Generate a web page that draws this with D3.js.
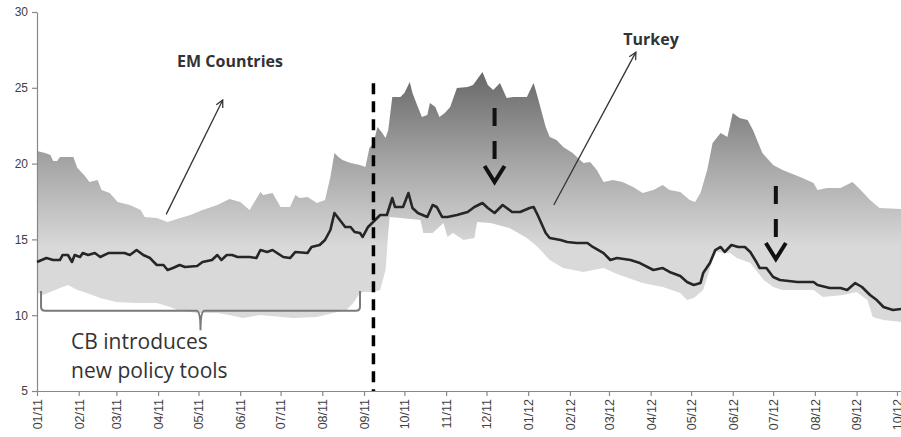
<!DOCTYPE html>
<html>
<head>
<meta charset="utf-8">
<script src="https://cdn.jsdelivr.net/npm/d3@7"></script>
<style>
  body { margin: 0; background: #fff; }
  svg { display: block; font-family: "Open Sans", "Noto Sans", sans-serif; }
</style>
</head>
<body>
<script>
// EM countries range (max / min) and Turkey
const emMax = [
  ['2011-01-01', 20.83], ['2011-01-07', 20.70], ['2011-01-11', 20.57], ['2011-01-13', 20.17],
  ['2011-01-16', 20.17], ['2011-01-18', 20.44], ['2011-01-28', 20.44], ['2011-01-31', 19.71],
  ['2011-02-05', 19.25], ['2011-02-09', 18.79], ['2011-02-15', 18.92], ['2011-02-18', 18.26],
  ['2011-02-24', 18.06], ['2011-03-02', 17.47], ['2011-03-11', 17.27], ['2011-03-19', 16.94],
  ['2011-03-22', 16.48], ['2011-03-31', 16.41], ['2011-04-08', 16.15], ['2011-04-15', 16.35],
  ['2011-04-25', 16.61], ['2011-05-04', 16.94], ['2011-05-15', 17.27], ['2011-05-24', 17.66],
  ['2011-06-01', 17.47], ['2011-06-08', 16.94], ['2011-06-16', 18.13], ['2011-06-18', 17.93],
  ['2011-06-25', 18.06], ['2011-07-01', 17.14], ['2011-07-08', 17.14], ['2011-07-12', 17.93],
  ['2011-07-15', 17.73], ['2011-07-21', 17.80], ['2011-07-28', 17.40], ['2011-08-03', 17.60],
  ['2011-08-07', 19.12], ['2011-08-10', 20.70], ['2011-08-13', 20.44], ['2011-08-16', 20.24],
  ['2011-08-22', 20.04], ['2011-08-29', 19.91], ['2011-09-02', 19.78], ['2011-09-05', 21.03],
  ['2011-09-08', 21.36], ['2011-09-11', 22.41], ['2011-09-14', 22.08], ['2011-09-17', 21.69],
  ['2011-09-19', 22.22], ['2011-09-22', 24.39], ['2011-09-28', 24.39], ['2011-10-01', 24.66],
  ['2011-10-05', 25.38], ['2011-10-07', 24.66], ['2011-10-11', 23.73], ['2011-10-14', 23.07],
  ['2011-10-18', 23.21], ['2011-10-20', 24.00], ['2011-10-24', 23.73], ['2011-10-27', 23.07],
  ['2011-10-31', 23.34], ['2011-11-04', 23.73], ['2011-11-09', 24.99], ['2011-11-17', 25.05],
  ['2011-11-21', 25.18], ['2011-11-28', 26.04], ['2011-12-02', 25.18], ['2011-12-06', 24.85],
  ['2011-12-11', 25.32], ['2011-12-16', 24.33], ['2011-12-21', 24.39], ['2011-12-31', 24.39],
  ['2012-01-05', 25.32], ['2012-01-08', 24.39], ['2012-01-14', 22.41], ['2012-01-17', 21.75],
  ['2012-01-22', 21.56], ['2012-01-27', 21.10], ['2012-02-03', 20.70], ['2012-02-11', 20.04],
  ['2012-02-16', 20.11], ['2012-02-21', 19.58], ['2012-02-26', 18.79], ['2012-03-04', 18.92],
  ['2012-03-11', 18.79], ['2012-03-19', 18.46], ['2012-03-26', 18.06], ['2012-04-03', 18.26],
  ['2012-04-10', 18.59], ['2012-04-15', 18.26], ['2012-04-23', 18.13], ['2012-04-30', 17.60],
  ['2012-05-04', 17.47], ['2012-05-08', 18.06], ['2012-05-13', 19.58], ['2012-05-17', 21.36],
  ['2012-05-23', 22.02], ['2012-05-28', 21.75], ['2012-06-01', 23.34], ['2012-06-06', 23.01],
  ['2012-06-12', 22.88], ['2012-06-16', 22.22], ['2012-06-23', 20.70], ['2012-07-01', 19.91],
  ['2012-07-08', 19.58], ['2012-07-21', 19.12], ['2012-07-31', 18.72], ['2012-08-03', 18.26],
  ['2012-08-10', 18.39], ['2012-08-20', 18.39], ['2012-08-29', 18.79], ['2012-09-04', 18.26],
  ['2012-09-11', 17.60], ['2012-09-18', 17.07], ['2012-10-04', 17.00]
]

const emMin = [
  ['2011-01-01', 11.53], ['2011-01-05', 11.33], ['2011-01-11', 11.53], ['2011-01-18', 11.79],
  ['2011-01-24', 11.99], ['2011-01-31', 11.66], ['2011-02-07', 11.46], ['2011-02-17', 11.13],
  ['2011-03-01', 10.87], ['2011-03-16', 10.80], ['2011-03-31', 10.80], ['2011-04-10', 10.54],
  ['2011-04-15', 10.34], ['2011-04-30', 10.15], ['2011-05-15', 10.15], ['2011-05-24', 10.01],
  ['2011-06-03', 9.82], ['2011-06-16', 10.01], ['2011-07-10', 9.82], ['2011-07-28', 9.88],
  ['2011-08-09', 10.15], ['2011-08-19', 10.34], ['2011-08-24', 10.80], ['2011-08-28', 11.33],
  ['2011-08-31', 11.53], ['2011-09-08', 11.53], ['2011-09-13', 11.66], ['2011-09-17', 12.98],
  ['2011-09-19', 15.42], ['2011-09-20', 16.48], ['2011-09-28', 16.41], ['2011-10-13', 16.28],
  ['2011-10-15', 15.42], ['2011-10-22', 15.42], ['2011-10-30', 16.08], ['2011-11-02', 15.16],
  ['2011-11-06', 15.42], ['2011-11-14', 14.96], ['2011-11-22', 15.09], ['2011-11-24', 16.15],
  ['2011-12-04', 16.08], ['2011-12-18', 15.75], ['2011-12-31', 15.09], ['2012-01-08', 14.50],
  ['2012-01-17', 13.64], ['2012-01-27', 13.11], ['2012-02-11', 12.85], ['2012-02-26', 13.11],
  ['2012-03-07', 12.72], ['2012-03-26', 12.12], ['2012-04-10', 11.86], ['2012-04-23', 11.46],
  ['2012-04-28', 11.00], ['2012-05-03', 11.13], ['2012-05-10', 11.66], ['2012-05-17', 13.64],
  ['2012-05-20', 14.17], ['2012-05-30', 14.10], ['2012-06-04', 13.77], ['2012-06-14', 13.44],
  ['2012-06-24', 12.32], ['2012-07-01', 11.86], ['2012-07-08', 11.66], ['2012-07-31', 11.66],
  ['2012-08-07', 11.20], ['2012-08-22', 11.33], ['2012-09-01', 11.53], ['2012-09-09', 11.00],
  ['2012-09-13', 9.88], ['2012-09-21', 9.68], ['2012-10-04', 9.55]
]

const turkey = [
  ['2011-01-01', 13.51], ['2011-01-08', 13.77], ['2011-01-13', 13.64], ['2011-01-18', 13.64],
  ['2011-01-20', 13.97], ['2011-01-24', 13.97], ['2011-01-27', 13.51], ['2011-01-29', 13.97],
  ['2011-02-02', 13.84], ['2011-02-04', 14.10], ['2011-02-08', 13.97], ['2011-02-13', 14.10],
  ['2011-02-17', 13.84], ['2011-02-23', 14.10], ['2011-03-01', 14.10], ['2011-03-07', 14.10],
  ['2011-03-11', 13.97], ['2011-03-16', 14.30], ['2011-03-21', 13.97], ['2011-03-26', 13.77],
  ['2011-03-31', 13.31], ['2011-04-05', 13.31], ['2011-04-08', 12.98], ['2011-04-12', 13.11],
  ['2011-04-17', 13.31], ['2011-04-21', 13.18], ['2011-04-30', 13.25], ['2011-05-04', 13.51],
  ['2011-05-11', 13.64], ['2011-05-15', 13.97], ['2011-05-18', 13.64], ['2011-05-22', 13.97],
  ['2011-05-26', 13.97], ['2011-05-30', 13.84], ['2011-06-08', 13.84], ['2011-06-13', 13.77],
  ['2011-06-16', 14.30], ['2011-06-21', 14.17], ['2011-06-25', 14.30], ['2011-07-03', 13.84],
  ['2011-07-08', 13.77], ['2011-07-12', 14.17], ['2011-07-21', 14.10], ['2011-07-24', 14.50],
  ['2011-07-30', 14.63], ['2011-08-03', 14.96], ['2011-08-07', 15.62], ['2011-08-10', 16.74],
  ['2011-08-14', 16.28], ['2011-08-18', 15.82], ['2011-08-22', 15.82], ['2011-08-25', 15.49],
  ['2011-08-29', 15.42], ['2011-08-31', 15.16], ['2011-09-04', 15.82], ['2011-09-07', 16.08],
  ['2011-09-13', 16.61], ['2011-09-18', 16.61], ['2011-09-22', 17.73], ['2011-09-24', 17.14],
  ['2011-09-30', 17.14], ['2011-10-04', 18.06], ['2011-10-07', 17.07], ['2011-10-11', 16.74],
  ['2011-10-18', 16.48], ['2011-10-22', 17.27], ['2011-10-25', 17.14], ['2011-10-29', 16.48],
  ['2011-11-02', 16.48], ['2011-11-09', 16.61], ['2011-11-17', 16.81], ['2011-11-22', 17.14],
  ['2011-11-28', 17.40], ['2011-12-02', 17.07], ['2011-12-07', 16.74], ['2011-12-13', 17.27],
  ['2011-12-20', 16.81], ['2011-12-26', 16.81], ['2012-01-02', 17.07], ['2012-01-05', 17.14],
  ['2012-01-08', 16.61], ['2012-01-14', 15.42], ['2012-01-17', 15.09], ['2012-01-25', 14.96],
  ['2012-01-30', 14.83], ['2012-02-06', 14.76], ['2012-02-14', 14.76], ['2012-02-18', 14.50],
  ['2012-02-26', 14.10], ['2012-03-02', 13.64], ['2012-03-07', 13.77], ['2012-03-17', 13.64],
  ['2012-03-24', 13.44], ['2012-04-03', 12.98], ['2012-04-10', 13.11], ['2012-04-15', 12.85],
  ['2012-04-23', 12.58], ['2012-04-28', 12.19], ['2012-05-03', 11.99], ['2012-05-08', 12.12],
  ['2012-05-10', 12.78], ['2012-05-15', 13.44], ['2012-05-19', 14.30], ['2012-05-23', 14.50],
  ['2012-05-26', 14.17], ['2012-05-31', 14.63], ['2012-06-05', 14.50], ['2012-06-10', 14.50],
  ['2012-06-14', 14.17], ['2012-06-19', 13.44], ['2012-06-21', 13.11], ['2012-06-26', 13.11],
  ['2012-07-01', 12.52], ['2012-07-06', 12.32], ['2012-07-19', 12.19], ['2012-07-31', 12.19],
  ['2012-08-03', 11.99], ['2012-08-12', 11.79], ['2012-08-20', 11.79], ['2012-08-25', 11.66],
  ['2012-08-31', 12.12], ['2012-09-05', 11.86], ['2012-09-11', 11.33], ['2012-09-16', 11.00],
  ['2012-09-21', 10.54], ['2012-09-28', 10.34], ['2012-10-04', 10.41]
]

const yTicks = [5, 10, 15, 20, 25, 30]
const dateRange = ['2011-01-01', '2012-10-04']

// annotation points: [date, top value, tip value]
const policyDate = '2011-09-08'
const cutArrows = [['2011-12-07', 23.67, 18.72], ['2012-07-03', 18.52, 13.64]]
const braceRange = ['2011-01-04', '2011-08-29']

// measurements
let m = { width: 901, height: 437, left: 37, right: 901, top: 12, bottom: 391 }

let parse = d3.timeParse('%Y-%m-%d')

let svg = d3.select('body')
  .append('svg')
  .attr('width', m.width)
  .attr('height', m.height)

let x = d3.scaleTime()
  .domain(dateRange.map(parse))
  .range([m.left, m.right])

let y = d3.scaleLinear()
  .domain([5, 30])
  .range([m.bottom, m.top])

// band gradient, darker at the top
let defs = svg.append('defs')
let grad = defs.append('linearGradient')
  .attr('id', 'band')
  .attr('gradientUnits', 'userSpaceOnUse')
  .attr('x1', 0).attr('x2', 0)
  .attr('y1', y(26)).attr('y2', y(14.5))
grad.append('stop').attr('offset', 0).attr('stop-color', '#686868')
grad.append('stop').attr('offset', 0.55).attr('stop-color', '#a9a9a9')
grad.append('stop').attr('offset', 1).attr('stop-color', '#d9d9d9')

defs.append('marker')
  .attr('id', 'head')
  .attr('viewBox', '0 0 10 10')
  .attr('refX', 9).attr('refY', 5)
  .attr('markerWidth', 9).attr('markerHeight', 9)
  .attr('markerUnits', 'userSpaceOnUse')
  .attr('orient', 'auto')
  .append('path')
  .attr('d', 'M1,1 L9,5 L1,9')
  .attr('fill', 'none')
  .attr('stroke', '#333')
  .attr('stroke-width', 1.4)

// EM band: upper edge forward, lower edge back
let pts = emMax.map(function(d) { return [x(parse(d[0])), y(d[1])] })
  .concat(emMin.slice().reverse().map(function(d) { return [x(parse(d[0])), y(d[1])] }))

svg.append('path')
  .attr('d', d3.line()(pts) + 'Z')
  .attr('fill', 'url(#band)')

// axes
let xAxis = d3.axisBottom(x)
  .ticks(d3.timeMonth.every(1))
  .tickFormat(d3.timeFormat('%m/%y'))
  .tickSize(5)
  .tickSizeOuter(0)

let gx = svg.append('g')
  .attr('transform', 'translate(0,' + m.bottom + ')')
  .call(xAxis)
gx.select('.domain').attr('stroke', '#888').attr('stroke-width', 1.2)
gx.selectAll('.tick line').attr('stroke', '#888').attr('stroke-width', 1.2)
gx.selectAll('.tick text')
  .attr('fill', '#404040')
  .attr('font-size', 12.5)
  .attr('text-anchor', 'end')
  .attr('transform', 'rotate(-90)')
  .attr('x', -8)
  .attr('y', 0)
  .attr('dy', '0.35em')

let gy = svg.append('g')
  .attr('transform', 'translate(' + m.left + ',0)')
  .call(d3.axisLeft(y).tickValues(yTicks).tickSize(5).tickSizeOuter(0))
gy.select('.domain').attr('stroke', '#888').attr('stroke-width', 1.2)
gy.selectAll('.tick line').attr('stroke', '#888').attr('stroke-width', 1.2)
gy.selectAll('.tick text')
  .attr('fill', '#404040')
  .attr('font-size', 12)
  .attr('x', -9)

// Turkey line
svg.append('path')
  .datum(turkey)
  .attr('d', d3.line()
    .x(function(d) { return x(parse(d[0])) })
    .y(function(d) { return y(d[1]) }))
  .attr('fill', 'none')
  .attr('stroke', '#262626')
  .attr('stroke-width', 2.6)
  .attr('stroke-linejoin', 'round')

// policy date marker
svg.append('line')
  .attr('x1', x(parse(policyDate))).attr('x2', x(parse(policyDate)))
  .attr('y1', y(25.3)).attr('y2', m.bottom)
  .attr('stroke', '#000')
  .attr('stroke-width', 3.5)
  .attr('stroke-dasharray', '11,7')

// dashed down arrows: two dashes then a chevron
cutArrows.forEach(function(a) {
  let ax = x(parse(a[0]))
  let tip = y(a[2])
  let g = svg.append('g')
  g.append('line')
    .attr('x1', ax).attr('x2', ax)
    .attr('y1', y(a[1])).attr('y2', tip - 22)
    .attr('stroke', '#111')
    .attr('stroke-width', 4)
    .attr('stroke-dasharray', '18,15')
  g.append('path')
    .attr('d', 'M' + (ax - 10) + ',' + (tip - 17) + 'L' + ax + ',' + (tip - 1) + 'L' + (ax + 10) + ',' + (tip - 17))
    .attr('fill', 'none')
    .attr('stroke', '#111')
    .attr('stroke-width', 4)
})

// label arrows
svg.append('line')
  .attr('x1', x(parse('2011-04-07'))).attr('y1', y(16.65))
  .attr('x2', x(parse('2011-05-19'))).attr('y2', y(24.2))
  .attr('stroke', '#333').attr('stroke-width', 1.3)
  .attr('marker-end', 'url(#head)')

svg.append('line')
  .attr('x1', x(parse('2012-01-20'))).attr('y1', y(17.27))
  .attr('x2', x(parse('2012-03-21'))).attr('y2', y(27.35))
  .attr('stroke', '#333').attr('stroke-width', 1.3)
  .attr('marker-end', 'url(#head)')

svg.append('text')
  .attr('x', 230).attr('y', 67)
  .attr('text-anchor', 'middle')
  .attr('font-weight', 'bold')
  .attr('font-size', 16)
  .attr('fill', '#333')
  .text('EM Countries')

svg.append('text')
  .attr('x', 651).attr('y', 45)
  .attr('text-anchor', 'middle')
  .attr('font-weight', 'bold')
  .attr('font-size', 16)
  .attr('fill', '#333')
  .text('Turkey')

// brace under the band
let bx0 = x(parse(braceRange[0]))
let bx1 = x(parse(braceRange[1]))
let bmid = (bx0 + bx1) / 2
let bTop = y(11.6), bBot = y(10.3), bTip = y(9.0)
svg.append('path')
  .attr('d', 'M' + bx0 + ',' + bTop + 'L' + bx0 + ',' + (bBot - 4) +
    'Q' + bx0 + ',' + bBot + ' ' + (bx0 + 4) + ',' + bBot +
    'L' + (bmid - 4) + ',' + bBot +
    'Q' + bmid + ',' + bBot + ' ' + bmid + ',' + bTip +
    'Q' + bmid + ',' + bBot + ' ' + (bmid + 4) + ',' + bBot +
    'L' + (bx1 - 4) + ',' + bBot +
    'Q' + bx1 + ',' + bBot + ' ' + bx1 + ',' + (bBot - 4) +
    'L' + bx1 + ',' + bTop)
  .attr('fill', 'none')
  .attr('stroke', '#7a7a7a')
  .attr('stroke-width', 2)

let note = svg.append('text')
  .attr('font-size', 21)
  .attr('fill', '#333')
note.append('tspan').attr('x', 71).attr('y', 349).text('CB introduces')
note.append('tspan').attr('x', 71).attr('y', 378).text('new policy tools')
</script>
</body>
</html>
